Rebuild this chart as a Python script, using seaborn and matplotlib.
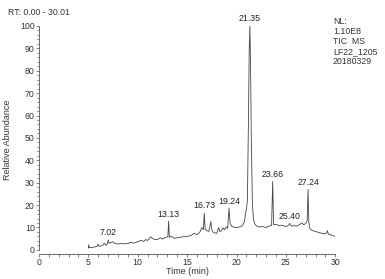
import matplotlib
matplotlib.use("Agg")
import matplotlib.pyplot as plt
import seaborn as sns
import pandas as pd
from matplotlib.ticker import MultipleLocator

sns.set_style("ticks")
plt.rcParams['font.family'] = ['Liberation Sans', 'DejaVu Sans']

# chromatogram trace (time in min, relative abundance %)
time = [5.00, 5.05, 5.10, 5.30, 5.60, 5.90, 6.00, 6.10, 6.30, 6.50, 6.60, 6.80, 6.95, 7.02, 7.10,
        7.30, 7.50, 7.70, 8.00, 8.30, 8.60, 9.00, 9.30, 9.60, 10.00, 10.30, 10.60, 10.80, 11.00,
        11.30, 11.60, 12.00, 12.30, 12.50, 12.80, 13.05, 13.13, 13.20, 13.40, 13.70, 14.00, 14.50,
        15.00, 15.40, 15.70, 16.00, 16.30, 16.50, 16.65, 16.73, 16.82, 17.00, 17.20, 17.40, 17.50,
        17.60, 17.80, 18.00, 18.20, 18.30, 18.45, 18.60, 18.80, 18.95, 19.10, 19.24, 19.35, 19.50,
        19.80, 20.00, 20.30, 20.60, 20.80, 20.90, 21.00, 21.10, 21.20, 21.28, 21.35, 21.42, 21.50,
        21.60, 21.70, 21.85, 22.00, 22.30, 22.60, 23.00, 23.30, 23.55, 23.66, 23.75, 24.00, 24.30,
        24.60, 25.00, 25.20, 25.40, 25.55, 25.80, 26.10, 26.40, 26.60, 26.80, 27.00, 27.15, 27.24,
        27.32, 27.45, 27.70, 28.00, 28.30, 28.60, 28.90, 29.10, 29.20, 29.30, 29.60, 30.00]
abundance = [0.8, 2.3, 1.0, 1.0, 1.3, 1.5, 2.6, 1.6, 1.8, 2.2, 3.0, 2.0, 2.8, 4.4, 3.0,
             3.2, 3.6, 2.8, 2.6, 2.9, 2.7, 2.8, 3.4, 3.0, 3.6, 4.2, 3.8, 4.6, 4.2,
             5.8, 4.8, 4.6, 5.4, 4.8, 5.6, 5.8, 12.8, 5.6, 6.0, 5.2, 5.4, 5.8,
             6.0, 6.4, 7.4, 6.8, 8.0, 10.0, 9.0, 16.4, 9.4, 8.6, 8.2, 12.6, 9.0,
             8.0, 7.6, 7.4, 10.0, 8.2, 8.4, 9.8, 9.0, 10.2, 9.6, 18.6, 12.0, 10.6,
             10.0, 10.0, 10.2, 10.8, 12.6, 16.0, 18.0, 22.0, 55.0, 88.0, 100.0, 82.0, 48.0,
             22.0, 14.0, 11.6, 10.8, 10.2, 10.4, 10.0, 10.6, 11.0, 30.5, 11.2, 11.4, 10.8,
             11.0, 10.4, 10.8, 11.8, 10.6, 10.8, 10.6, 11.4, 12.0, 11.2, 11.8, 13.0, 27.0,
             12.0, 9.2, 8.6, 8.2, 7.8, 7.4, 7.2, 7.4, 8.6, 7.0, 6.6, 6.0]

peak_times = [7.02, 13.13, 16.73, 19.24, 21.35, 23.66, 25.40, 27.24]
peak_heights = [4.4, 12.8, 16.4, 18.6, 100.0, 30.5, 11.8, 27.0]
peak_labels = ["7.02", "13.13", "16.73", "19.24", "21.35", "23.66", "25.40", "27.24"]

df = pd.DataFrame({"Time (min)": time, "Relative Abundance": abundance})

fig = plt.figure(figsize=(3.85, 2.79), dpi=100)
ax = fig.add_axes([0.101, 0.090, 0.770, 0.817])
sns.lineplot(data=df, x="Time (min)", y="Relative Abundance", ax=ax,
             color="#444444", linewidth=0.6)

for t, h, lab in zip(peak_times, peak_heights, peak_labels):
    ax.text(t, h + 1.2, lab, ha="center", va="bottom", fontsize=6.3, color="#222222")

ax.set_xlim(0, 30)
ax.set_ylim(-1.8, 100)
ax.set_xticks([0, 5, 10, 15, 20, 25, 30])
ax.set_yticks(range(0, 101, 10))
ax.xaxis.set_minor_locator(MultipleLocator(1))
ax.yaxis.set_minor_locator(MultipleLocator(2))
ax.tick_params(axis="both", which="major", labelsize=6.3, length=2.5, width=0.5,
               colors="#555555", labelcolor="#333333", pad=0.5)
ax.tick_params(axis="both", which="minor", length=1.8, width=0.5, colors="#555555")
for s in ["top", "right"]:
    ax.spines[s].set_visible(False)
for s in ["left", "bottom"]:
    ax.spines[s].set_linewidth(0.6)
    ax.spines[s].set_color("#555555")
ax.spines["left"].set_bounds(0, 100)
ax.set_xlabel("Time (min)", fontsize=6.5, color="#333333", labelpad=0)
ax.set_ylabel("Relative Abundance", fontsize=6.5, color="#333333", labelpad=6)

fig.text(0.021, 0.955, "RT: 0.00 - 30.01", fontsize=6.3, color="#333333", va="center")
fig.text(0.865, 0.94, "NL:\n1.10E8\nTIC  MS\nLF22_1205\n20180329", fontsize=6.3,
         color="#333333", va="top", linespacing=1.15)

fig.savefig("out.png", dpi=100)
